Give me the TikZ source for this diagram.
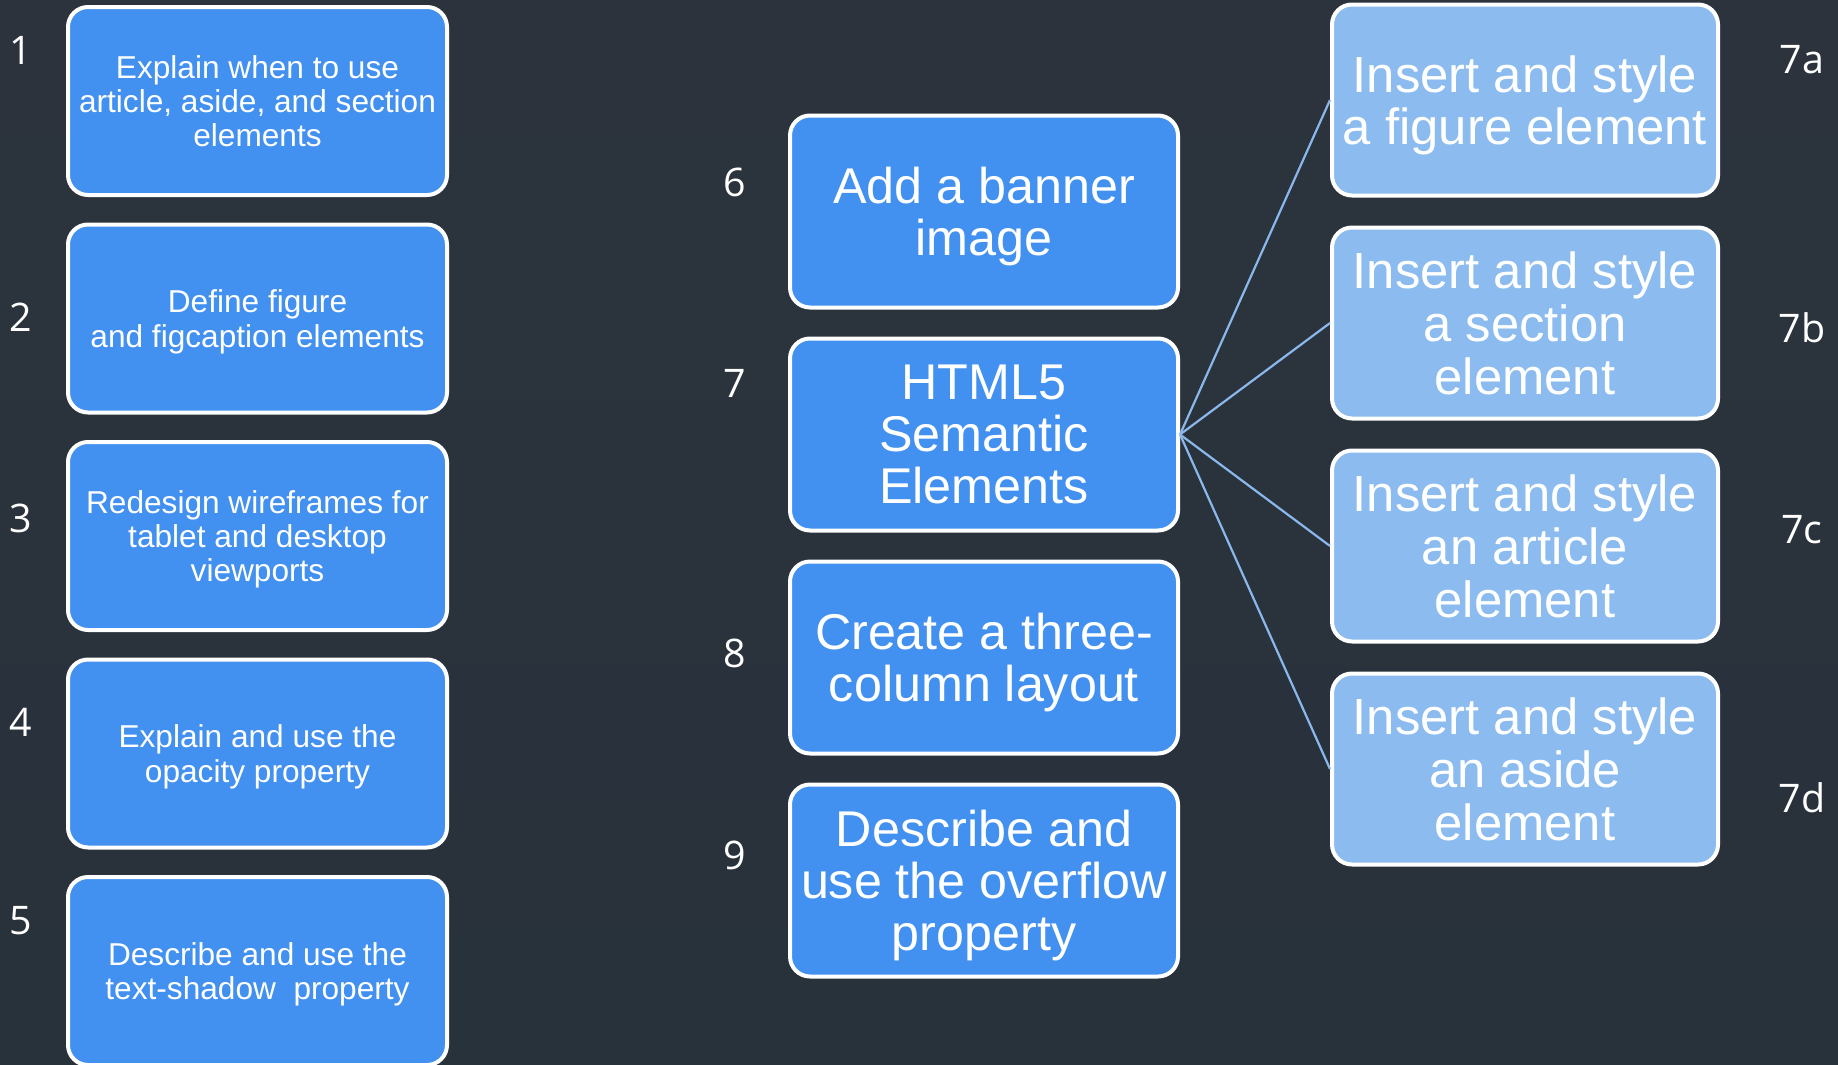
\documentclass[tikz,border=0pt]{standalone}
\usepackage{fontspec}
\setmainfont{Liberation Sans}
\newfontfamily\numfont{Open Sans}
\usetikzlibrary{positioning}

\definecolor{slidebg}{HTML}{2C333D}
\definecolor{slidebgb}{HTML}{28323B}
\definecolor{taskblue}{HTML}{4290F0}
\definecolor{subblue}{HTML}{8BBBEF}
\definecolor{linkblue}{HTML}{8AB8EC}

\begin{document}
\begin{tikzpicture}[%
x=0.1mm, y=-0.1mm,
node distance=22.3mm,
on grid,
task/.style={draw=white, line width=0.4mm, rounded corners=2mm, fill=taskblue,
  text=white, align=center, inner sep=0pt, text depth=0pt},
lbox/.style={task, minimum width=37.9mm, minimum height=18.8mm,
  font=\fontsize{9pt}{9.7pt}\selectfont},
mbox/.style={task, minimum width=38.8mm, minimum height=19.2mm,
  font=\fontsize{14.3pt}{14.8pt}\selectfont},
rbox/.style={task, fill=subblue, minimum width=38.6mm, minimum height=19.1mm,
  font=\fontsize{14.45pt}{15pt}\selectfont},
num/.style={text=white, font=\numfont\fontsize{11.2pt}{12pt}\selectfont, inner sep=0pt},
link/.style={draw=linkblue, line width=0.22mm}
]
\useasboundingbox[top color=slidebg, bottom color=slidebgb] (0,0) rectangle (1838,1064);

% left column
\node[lbox] (e1) at (257.5,101) {Explain when to use\\article, aside, and section\\elements};
\node[lbox] (e2) [below=21.75mm of e1] {Define figure\\and figcaption elements};
\node[lbox] (e3) [below=21.75mm of e2] {Redesign wireframes for\\tablet and desktop\\viewports};
\node[lbox] (e4) [below=21.75mm of e3] {Explain and use the\\opacity property};
\node[lbox] (e5) [below=21.75mm of e4] {Describe and use the\\text-shadow\ \ property};

% middle column
\node[mbox] (t6) at (984,211.5) {Add a banner\\image};
\node[mbox] (t7) [below=of t6] {HTML5\\Semantic\\Elements};
\node[mbox] (t8) [below=of t7] {Create a three-\\column layout};
\node[mbox] (t9) [below=of t8] {Describe and\\use the overflow\\property};

% right column
\node[rbox] (s7a) at (1525,100) {Insert and style\\a figure element};
\node[rbox] (s7b) [below=of s7a] {Insert and style\\a section\\element};
\node[rbox] (s7c) [below=of s7b] {Insert and style\\an article\\element};
\node[rbox] (s7d) [below=of s7c] {Insert and style\\an aside\\element};

% numbers
\node[num] (n1) at (21,50) {1};
\node[num] (n2) at (21,317) {2};
\node[num] (n3) at (21,518) {3};
\node[num] (n4) at (21,722) {4};
\node[num] (n5) at (21,921) {5};
\node[num] (n6) at (735,182) {6};
\node[num] (n7) at (735,383) {7};
\node[num] (n8) at (735,653) {8};
\node[num] (n9) at (735,855) {9};
\node[num] (n7a) at (1802,60) {7a};
\node[num] (n7b) at (1802,328) {7b};
\node[num] (n7c) at (1802,530) {7c};
\node[num] (n7d) at (1802,798) {7d};

% links from 7
\path[link] (t7.east) -- (s7a.west);
\path[link] (t7.east) -- (s7b.west);
\path[link] (t7.east) -- (s7c.west);
\path[link] (t7.east) -- (s7d.west);
\end{tikzpicture}
\end{document}
